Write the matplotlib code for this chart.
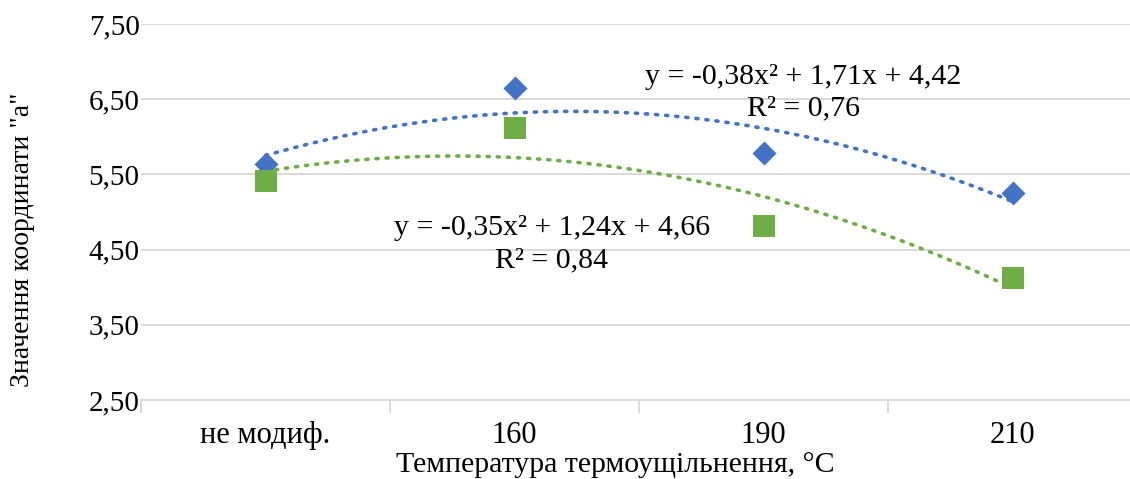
import numpy as np
import matplotlib.pyplot as plt
from matplotlib.ticker import FixedLocator, NullFormatter

plt.rcParams['font.family'] = ['Liberation Serif', 'DejaVu Serif']

# categories and measured values
categories = ['не модиф.', '160', '190', '210']
series_blue = [5.64, 6.65, 5.78, 5.25]
series_green = [5.41, 6.12, 4.81, 4.12]
eq_blue = ['y = -0,38x² + 1,71x + 4,42', 'R² = 0,76']
eq_green = ['y = -0,35x² + 1,24x + 4,66', 'R² = 0,84']
y_ticks = [2.5, 3.5, 4.5, 5.5, 6.5, 7.5]

blue = '#4472C4'
green = '#70AD47'
grid_c = '#D9D9D9'

fig = plt.figure(figsize=(11.3, 4.79), dpi=100)
ax = fig.add_axes([141 / 1130, 1 - 400 / 479, (1137 - 141) / 1130, (400 - 24) / 479])

x = np.arange(1, len(categories) + 1)

# polynomial (order 2) trendlines, like Excel
xs = np.linspace(1, 4, 200)
for vals, col in [(series_blue, blue), (series_green, green)]:
    coef = np.polyfit(x, vals, 2)
    ax.plot(xs, np.polyval(coef, xs), linestyle=(0, (0.6, 2.2)), dash_capstyle='round',
            color=col, lw=2.6, zorder=2)

ax.scatter(x, series_blue, marker='D', s=150, color=blue, zorder=3, linewidths=0)
ax.scatter(x, series_green, marker='s', s=240, color=green, zorder=3, linewidths=0)

ax.set_xlim(0.5, 4.5)
ax.set_ylim(2.5, 7.5)
ax.set_yticks(y_ticks)
ax.set_yticklabels([f'{v:.2f}'.replace('.', ',') for v in y_ticks], fontsize=21)
ax.yaxis.grid(True, color=grid_c, lw=1.4)
ax.set_axisbelow(True)
ax.tick_params(axis='y', length=0, pad=1)

# category labels centered, tick marks at boundaries
ax.xaxis.set_major_locator(FixedLocator([0.5, 1.5, 2.5, 3.5, 4.5]))
ax.xaxis.set_major_formatter(NullFormatter())
ax.xaxis.set_minor_locator(FixedLocator(x))
ax.set_xticklabels(categories, minor=True, fontsize=22)
ax.tick_params(axis='x', which='major', length=9, color=grid_c, width=1.4)
ax.tick_params(axis='x', which='minor', length=0, pad=15)

for s in ['top', 'right', 'left']:
    ax.spines[s].set_visible(False)
ax.spines['bottom'].set_color(grid_c)
ax.spines['bottom'].set_linewidth(1.4)

ax.set_xlabel('Температура термоущільнення, °C', fontsize=21.5)
ax.xaxis.set_label_coords(0.476, -0.137)
ax.set_ylabel('Значення координати "a"', fontsize=20, va='center')
ax.yaxis.set_label_coords(-0.119, 0.426)

ax.text(3.16, 6.795, eq_blue[0], fontsize=21.5, ha='center', va='center')
ax.text(3.16, 6.38, eq_blue[1], fontsize=21.5, ha='center', va='center')
ax.text(2.15, 4.79, eq_green[0], fontsize=21.5, ha='center', va='center')
ax.text(2.15, 4.36, eq_green[1], fontsize=21.5, ha='center', va='center')

fig.savefig('out.png', dpi=100)
